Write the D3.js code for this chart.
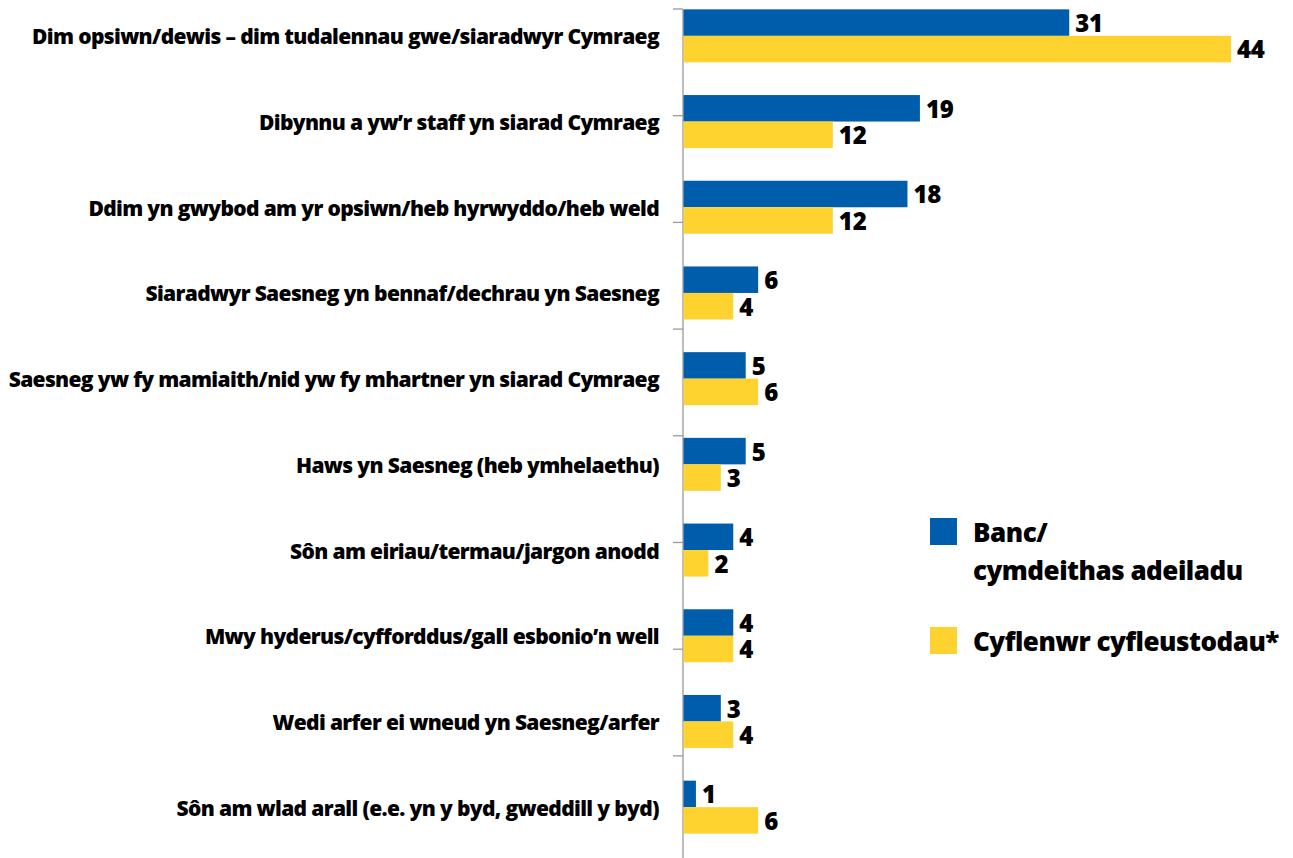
<!DOCTYPE html>
<html>
<head>
<meta charset="utf-8">
<script src="https://cdn.jsdelivr.net/npm/d3@7"></script>
<style>
  html, body { margin: 0; padding: 0; background: #fff; }
  svg { display: block; }
  text { font-family: "Open Sans", "Noto Sans", sans-serif; font-weight: 700; fill: #000; }
</style>
</head>
<body>
<svg id="chart" width="1293" height="858"></svg>
<script>
// Reasons for choosing English – percentages by type of organisation
const categories = [
  "Dim opsiwn/dewis – dim tudalennau gwe/siaradwyr Cymraeg",
  "Dibynnu a yw’r staff yn siarad Cymraeg",
  "Ddim yn gwybod am yr opsiwn/heb hyrwyddo/heb weld",
  "Siaradwyr Saesneg yn bennaf/dechrau yn Saesneg",
  "Saesneg yw fy mamiaith/nid yw fy mhartner yn siarad Cymraeg",
  "Haws yn Saesneg (heb ymhelaethu)",
  "Sôn am eiriau/termau/jargon anodd",
  "Mwy hyderus/cyfforddus/gall esbonio’n well",
  "Wedi arfer ei wneud yn Saesneg/arfer",
  "Sôn am wlad arall (e.e. yn y byd, gweddill y byd)"
];
const bankValues    = [31, 19, 18, 6, 5, 5, 4, 4, 3, 1];
const utilityValues = [44, 12, 12, 4, 6, 3, 2, 4, 4, 6];
const seriesNames = ["Banc/\ncymdeithas adeiladu", "Cyflenwr cyfleustodau*"];
const seriesColors = ["#005DAC", "#FED22F"];

const series = [bankValues, utilityValues];

const svg = d3.select("#chart");

const x0 = 683.5;
const x = d3.scaleLinear().domain([0, 44]).range([x0, 1231]);

// category bands
const y = d3.scaleBand().domain(categories).range([-7, 850]).paddingInner(0).paddingOuter(0);
const groupH = 53;
const ySub = d3.scaleBand().domain(d3.range(series.length)).range([0, groupH]);

// axis line with its own evenly spaced tick marks
const axisTop = 9, axisBottom = 862.6;
const tickScale = d3.scaleLinear().domain([0, 8]).range([axisTop, axisBottom]);
const axisG = svg.append("g");
axisG.append("line")
  .attr("x1", 683).attr("x2", 683)
  .attr("y1", axisTop).attr("y2", axisBottom)
  .attr("stroke", "#9a9a9a").attr("stroke-width", 1.3);
axisG.selectAll("line.tick")
  .data(d3.range(0, 9))
  .join("line")
  .attr("class", "tick")
  .attr("x1", 673).attr("x2", 683)
  .attr("y1", d => tickScale(d)).attr("y2", d => tickScale(d))
  .attr("stroke", "#9a9a9a").attr("stroke-width", 1.3);

// bars
const rows = svg.append("g").selectAll("g.row")
  .data(categories)
  .join("g")
  .attr("class", "row")
  .attr("transform", d => `translate(0,${y(d) + y.bandwidth() / 2 - groupH / 2})`);

rows.each(function (cat, i) {
  const g = d3.select(this);
  series.forEach((vals, s) => {
    g.append("rect")
      .attr("x", x(0))
      .attr("y", ySub(s))
      .attr("width", x(vals[i]) - x(0))
      .attr("height", ySub.bandwidth())
      .attr("fill", seriesColors[s]);
    g.append("text")
      .attr("x", x(vals[i]) + 6)
      .attr("y", ySub(s) + ySub.bandwidth() / 2 + 1)
      .attr("dy", "0.35em")
      .attr("font-size", 24)
      .style("font-weight", 800)
      .attr("letter-spacing", "-0.2")
      .text(vals[i]);
  });
  // category label
  g.append("text")
    .attr("x", 659)
    .attr("y", groupH / 2 + 1)
    .attr("dy", "0.36em")
    .attr("text-anchor", "end")
    .attr("font-size", 21)
    .style("font-weight", 800)
    .attr("letter-spacing", "-0.65")
    .text(cat);
});

// legend
const legend = svg.append("g");
const legendRows = [
  { y: 518, lines: seriesNames[0].split("\n") },
  { y: 627, lines: seriesNames[1].split("\n") }
];
legendRows.forEach((r, s) => {
  legend.append("rect")
    .attr("x", 930).attr("y", r.y)
    .attr("width", 27).attr("height", 27)
    .attr("fill", seriesColors[s]);
  const t = legend.append("text")
    .attr("x", 973)
    .attr("y", r.y + 24)
    .attr("font-size", 26)
    .style("font-weight", 800)
    .attr("letter-spacing", "-0.5");
  r.lines.forEach((ln, k) => {
    t.append("tspan").attr("x", 973).attr("dy", k === 0 ? 0 : 38).text(ln);
  });
});
</script>
</body>
</html>
